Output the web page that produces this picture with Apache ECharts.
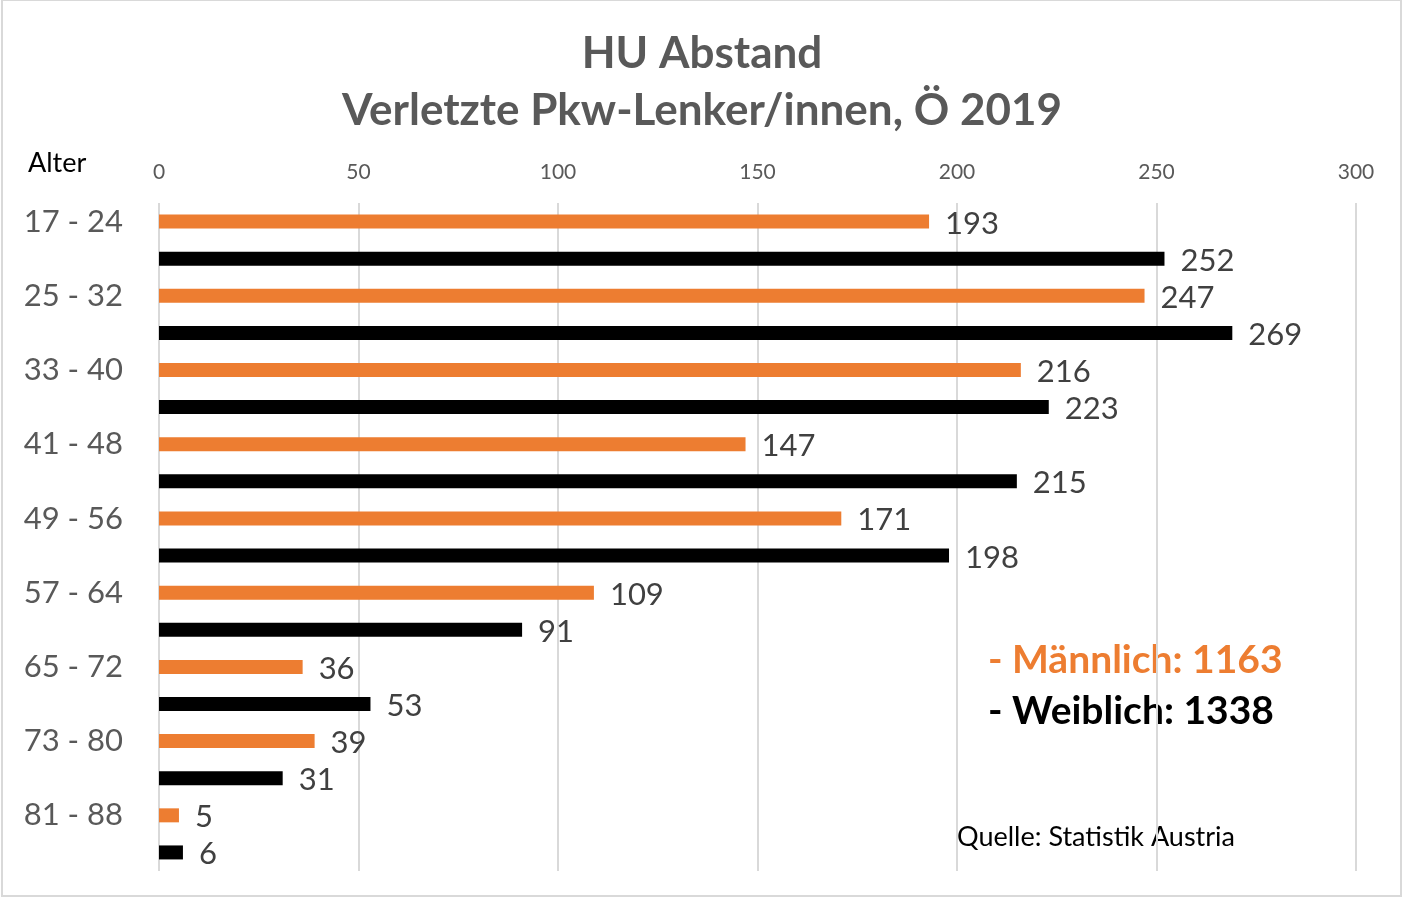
<!DOCTYPE html>
<html><head><meta charset="utf-8">
<script src="https://cdn.jsdelivr.net/npm/echarts@6/dist/echarts.min.js"></script>
<style>html,body{margin:0;padding:0;background:#fff}#c{width:1404px;height:899px}</style>
</head><body><div id="c"></div>
<script>
const categories = ['17 - 24','25 - 32','33 - 40','41 - 48','49 - 56','57 - 64','65 - 72','73 - 80','81 - 88'];
const maennlich = [193,247,216,147,171,109,36,39,5];
const weiblich = [252,269,223,215,198,91,53,31,6];
const xTicks = {min:0, max:300, interval:50};
const FONT = 'Lato, "Open Sans", sans-serif';
const chart = echarts.init(document.getElementById('c'));
const valLabel = {show:true, position:'right', distance:16, offset:[0,2], fontSize:31, color:'#404040', fontFamily:FONT};
chart.setOption({
  animation:false,
  title:{text:'HU Abstand\nVerletzte Pkw-Lenker/innen, Ö 2019', left:'center', top:20,
    textStyle:{fontSize:44, fontWeight:'bold', color:'#595959', lineHeight:57, fontFamily:FONT}},
  grid:{left:159, right:48, top:203, bottom:28},
  xAxis:{type:'value', position:'top', min:xTicks.min, max:xTicks.max, interval:xTicks.interval,
    axisLine:{show:false}, axisTick:{show:false},
    axisLabel:{fontSize:21, color:'#595959', margin:20, fontFamily:FONT},
    splitLine:{lineStyle:{color:'#d9d9d9', width:2}}},
  yAxis:{type:'category', data:categories, inverse:true,
    axisLine:{show:false}, axisTick:{show:false},
    axisLabel:{fontSize:31, color:'#595959', margin:36, verticalAlign:'bottom', lineHeight:31, padding:[0,0,3,0], fontFamily:FONT}},
  series:[
    {name:'Männlich', type:'bar', data:maennlich, barWidth:14, barGap:'165%', itemStyle:{color:'#ED7D31'}, label:valLabel},
    {name:'Weiblich', type:'bar', data:weiblich, barWidth:14, itemStyle:{color:'#000000'}, label:valLabel}
  ],
  graphic:[
    {type:'rect', shape:{x:2, y:0, width:1399, height:896}, style:{fill:null, stroke:'#d9d9d9', lineWidth:2}, silent:true},
    {type:'text', left:28, top:150, style:{text:'Alter', fontSize:27, fill:'#000', fontFamily:FONT}},
    {type:'text', left:988, top:641, style:{text:'- Männlich: 1163', fontSize:39, fontWeight:'bold', fill:'#ED7D31', fontFamily:FONT}},
    {type:'text', left:988, top:692, style:{text:'- Weiblich: 1338', fontSize:39, fontWeight:'bold', fill:'#000', fontFamily:FONT}},
    {type:'text', left:957, top:824, style:{text:'Quelle: Statistik Austria', fontSize:27, fill:'#000', fontFamily:FONT}}
  ]
});
</script></body></html>
